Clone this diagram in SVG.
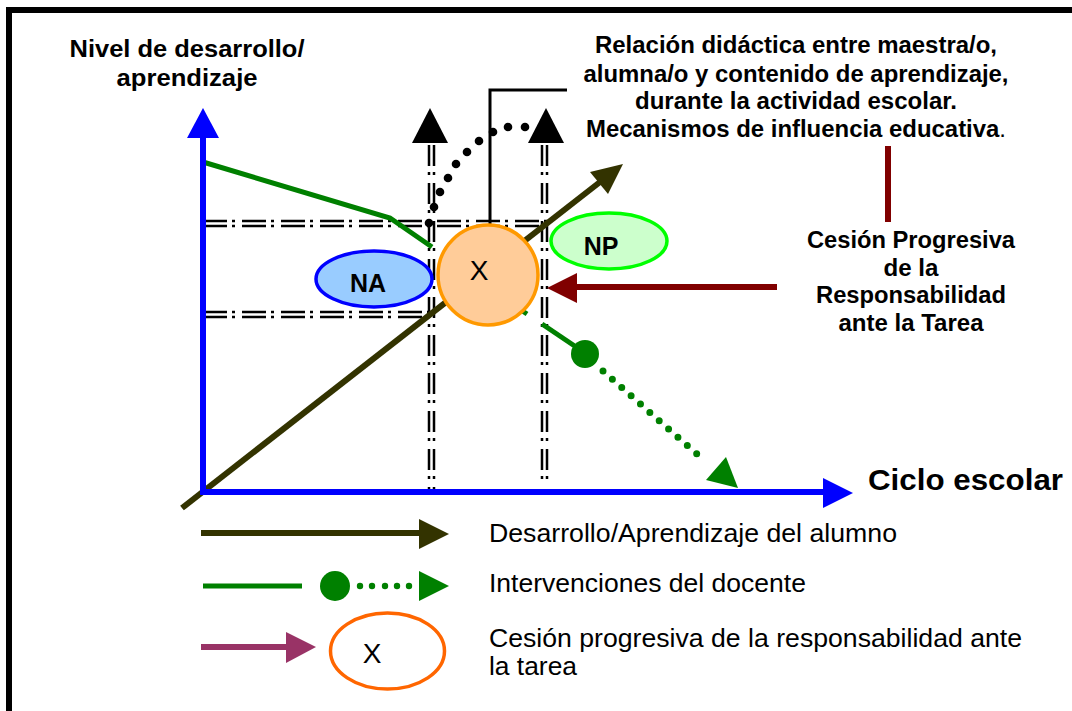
<svg xmlns="http://www.w3.org/2000/svg" width="1072" height="711" viewBox="0 0 1072 711">
<style>
.b{font-family:"Liberation Sans",Arial,sans-serif;font-weight:bold;fill:#000}
.r{font-family:"Liberation Sans",Arial,sans-serif;font-weight:normal;fill:#000}
.dv{stroke:#000;stroke-width:2.5;stroke-dasharray:21 6 3 8;fill:none}
.dh{stroke:#000;stroke-width:2.5;stroke-dasharray:24 5 3 7;fill:none}
.axis{stroke:#0000FF;stroke-width:6;fill:none}
.olive{stroke:#333300;stroke-width:6;fill:none}
.grn{stroke:#008000;stroke-width:5;fill:none}
.dred{stroke:#800000;stroke-width:6;fill:none}
</style>
<rect x="0" y="0" width="1072" height="711" fill="#fff"/>
<rect id="frame" x="9" y="10" width="1100" height="800" fill="#fff" stroke="#000" stroke-width="6"/>

<g id="title">
<text class="b" font-size="24" text-anchor="middle" x="187" y="57" textLength="235" lengthAdjust="spacingAndGlyphs">Nivel de desarrollo/</text>
<text class="b" font-size="24" text-anchor="middle" x="187" y="86" textLength="141" lengthAdjust="spacingAndGlyphs">aprendizaje</text>
</g>

<g id="relacion-text">
<text class="b" font-size="23" text-anchor="middle" x="796" y="53" textLength="402" lengthAdjust="spacingAndGlyphs">Relación didáctica entre maestra/o,</text>
<text class="b" font-size="23" text-anchor="middle" x="796" y="82" textLength="425" lengthAdjust="spacingAndGlyphs">alumna/o y contenido de aprendizaje,</text>
<text class="b" font-size="23" text-anchor="middle" x="796" y="109" textLength="322" lengthAdjust="spacingAndGlyphs">durante la actividad escolar.</text>
<text class="b" font-size="23" text-anchor="middle" x="796" y="137" textLength="420" lengthAdjust="spacingAndGlyphs">Mecanismos de influencia educativa<tspan font-weight="normal">.</tspan></text>
</g>

<g id="cesion-text">
<text class="b" font-size="23" text-anchor="middle" x="911" y="248" textLength="208" lengthAdjust="spacingAndGlyphs">Cesión Progresiva</text>
<text class="b" font-size="23" text-anchor="middle" x="911" y="276" textLength="55" lengthAdjust="spacingAndGlyphs">de la</text>
<text class="b" font-size="23" text-anchor="middle" x="911" y="303" textLength="190" lengthAdjust="spacingAndGlyphs">Responsabilidad</text>
<text class="b" font-size="23" text-anchor="middle" x="911" y="331" textLength="145" lengthAdjust="spacingAndGlyphs">ante la Tarea</text>
</g>

<g id="ciclo-label">
<text class="b" font-size="30" x="868" y="490" textLength="195" lengthAdjust="spacingAndGlyphs">Ciclo escolar</text>
</g>

<g id="connectors">
<line class="dh" x1="203" y1="221" x2="548" y2="221"/>
<line class="dh" x1="203" y1="226" x2="548" y2="226"/>
<line class="dh" x1="203" y1="312" x2="432" y2="312"/>
<line class="dh" x1="203" y1="317" x2="432" y2="317"/>
<line class="dv" x1="429" y1="145" x2="429" y2="495"/>
<line class="dv" x1="434" y1="145" x2="434" y2="495"/>
<line class="dv" x1="542" y1="145" x2="542" y2="486"/>
<line class="dv" x1="547" y1="145" x2="547" y2="486"/>
<polygon points="430,108 412,143 448,143" fill="#000"/>
<polygon points="546,108 528,143 564,143" fill="#000"/>
<polyline points="490,224 490,90 567,90" fill="none" stroke="#000" stroke-width="3"/>
<g fill="#000">
<circle cx="429" cy="223" r="4.3"/><circle cx="434" cy="207" r="4.3"/><circle cx="440" cy="192" r="4.3"/>
<circle cx="448" cy="178" r="4.3"/><circle cx="456" cy="164" r="4.3"/><circle cx="467" cy="152" r="4.3"/>
<circle cx="479" cy="141" r="4.3"/><circle cx="493" cy="132" r="4.3"/><circle cx="508" cy="127" r="4.3"/>
<circle cx="525" cy="127" r="4.3"/>
</g>
<polyline class="grn" points="203,162 390,218 432,247"/>
<line class="grn" x1="521" y1="310" x2="527" y2="314"/>
<line class="grn" x1="542" y1="324" x2="585" y2="353"/>
<circle cx="585" cy="354" r="14" fill="#008000"/>
<line x1="603" y1="371" x2="706" y2="462" stroke="#008000" stroke-width="7" stroke-linecap="round" stroke-dasharray="0 12.5"/>
<polygon points="738,488 706,480 726,457" fill="#008000"/>
<line class="olive" x1="182" y1="508" x2="600" y2="182"/>
<polygon points="623,164 590,172 608,194" fill="#333300"/>
<line class="axis" x1="203" y1="495" x2="203" y2="136"/>
<polygon points="203,108 187,138 219,138" fill="#0000FF"/>
<line class="axis" x1="200" y1="492" x2="825" y2="492"/>
<polygon points="853,493 823,478 823,508" fill="#0000FF"/>
<line class="dred" x1="888" y1="146" x2="888" y2="222"/>
<line class="dred" x1="777" y1="287" x2="575" y2="287"/>
<polygon points="547,288 577,273 577,303" fill="#800000"/>
</g>

<g id="node-X">
<circle cx="488" cy="275" r="50" fill="#FFCC99" stroke="#FF9900" stroke-width="3.5"/>
<text class="r" font-size="28" text-anchor="middle" x="479" y="280">X</text>
</g>
<g id="node-NA">
<ellipse cx="374" cy="279" rx="58" ry="28" fill="#99CCFF" stroke="#0000FF" stroke-width="3.5"/>
<text class="b" font-size="25" text-anchor="middle" x="368" y="292">NA</text>
</g>
<g id="node-NP">
<ellipse cx="609" cy="241" rx="58" ry="28" fill="#CCFFCC" stroke="#00FF00" stroke-width="3.5"/>
<text class="b" font-size="25" text-anchor="middle" x="601" y="255">NP</text>
</g>

<g id="legend">
<line class="olive" x1="201" y1="533" x2="420" y2="533"/>
<polygon points="449,534 419,519 419,549" fill="#333300"/>
<line x1="203" y1="586" x2="302" y2="586" stroke="#008000" stroke-width="5"/>
<circle cx="335" cy="586" r="15" fill="#008000"/>
<g fill="#008000">
<circle cx="360" cy="586" r="3.2"/><circle cx="372" cy="586" r="3.2"/><circle cx="385" cy="586" r="3.2"/>
<circle cx="397" cy="586" r="3.2"/><circle cx="409" cy="586" r="3.2"/>
</g>
<polygon points="449,586 419,571 419,601" fill="#008000"/>
<line x1="201" y1="647" x2="288" y2="647" stroke="#993366" stroke-width="6"/>
<polygon points="316,647 286,632 286,663" fill="#993366"/>
<ellipse cx="387.5" cy="651" rx="57" ry="38" fill="#fff" stroke="#FF6600" stroke-width="3.5"/>
<text class="r" font-size="28" text-anchor="middle" x="372" y="663">X</text>
<text class="r" font-size="25" x="489" y="542" textLength="408" lengthAdjust="spacingAndGlyphs">Desarrollo/Aprendizaje del alumno</text>
<text class="r" font-size="25" x="489" y="592" textLength="317" lengthAdjust="spacingAndGlyphs">Intervenciones del docente</text>
<text class="r" font-size="25" x="489" y="647" textLength="533" lengthAdjust="spacingAndGlyphs">Cesión progresiva de la responsabilidad ante</text>
<text class="r" font-size="25" x="489" y="675" textLength="88" lengthAdjust="spacingAndGlyphs">la tarea</text>
</g>
</svg>
